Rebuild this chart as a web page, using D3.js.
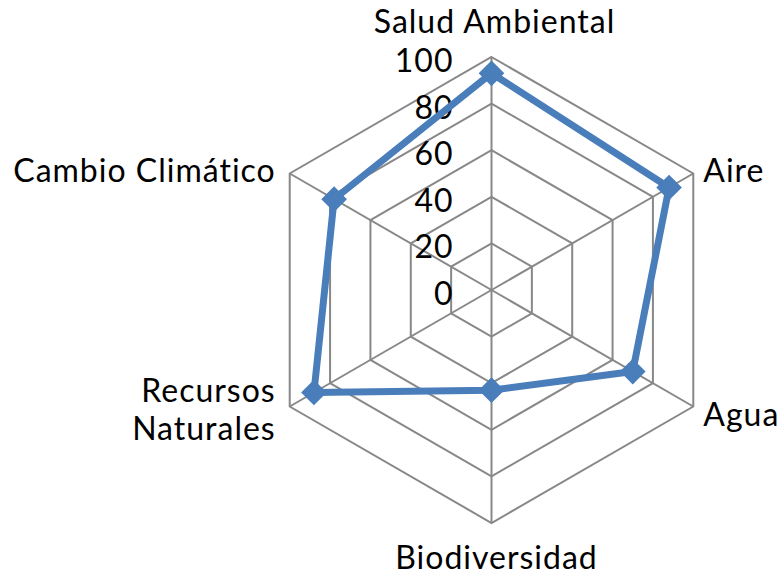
<!DOCTYPE html>
<html>
<head>
<meta charset="utf-8">
<style>
  body { margin: 0; background: #fff; }
  text {
    font-family: Lato, "Open Sans", sans-serif;
    font-size: 32px;
    letter-spacing: 1px;
    fill: #000;
  }
</style>
</head>
<body>
<div id="chart-area"></div>

<script src="https://cdn.jsdelivr.net/npm/d3@7"></script>
<script>
    const categories = ["Salud Ambiental", "Aire", "Agua", "Biodiversidad", "Recursos Naturales", "Cambio Climático"];
    const values = [93, 88, 70, 43, 88, 78];
    const ticks = [0, 20, 40, 60, 80, 100];

    const width = 783;
    const height = 575;
    const cx = 491.5, cy = 290;
    const radius = 233;

    const svg = d3.select("#chart-area")
        .append("svg")
            .attr("width", width)
            .attr("height", height);

    const g = svg.append("g")
        .attr("transform", `translate(${cx}, ${cy})`);

    const r = d3.scaleLinear().domain([0, 100]).range([0, radius]);
    const angle = d3.scaleLinear().domain([0, categories.length]).range([0, 2 * Math.PI]);

    // x/y for an axis index and a value
    const px = (i, v) => r(v) * Math.sin(angle(i));
    const py = (i, v) => -r(v) * Math.cos(angle(i));

    const line = d3.line()
        .x(d => px(d.i, d.v))
        .y(d => py(d.i, d.v))
        .curve(d3.curveLinearClosed);

    // grid rings
    g.selectAll(".ring")
        .data(ticks.filter(t => t > 0))
        .enter().append("path")
            .attr("class", "ring")
            .attr("d", t => line(categories.map((c, i) => ({i: i, v: t}))))
            .attr("fill", "none")
            .attr("stroke", "#888")
            .attr("stroke-width", 2);

    // spokes
    g.selectAll(".spoke")
        .data(categories)
        .enter().append("line")
            .attr("class", "spoke")
            .attr("x1", 0).attr("y1", 0)
            .attr("x2", (d, i) => px(i, 100))
            .attr("y2", (d, i) => py(i, 100))
            .attr("stroke", "#888")
            .attr("stroke-width", 2);

    // tick labels
    g.selectAll(".tick")
        .data(ticks)
        .enter().append("text")
            .attr("class", "tick")
            .attr("x", -38)
            .attr("y", t => -r(t) + 15)
            .attr("text-anchor", "end")
            .text(t => t);

    // series
    const pts = values.map((v, i) => ({i: i, v: v}));
    g.append("path")
        .attr("d", line(pts))
        .attr("fill", "none")
        .attr("stroke", "#4a7ebb")
        .attr("stroke-width", 7)
        .attr("stroke-linejoin", "round");

    g.selectAll(".marker")
        .data(pts)
        .enter().append("path")
            .attr("class", "marker")
            .attr("d", d3.symbol().type(d3.symbolDiamond2).size(420))
            .attr("transform", d => `translate(${px(d.i, d.v)}, ${py(d.i, d.v)})`)
            .attr("fill", "#4a7ebb");

    // category labels
    const labelPos = [
        {dx: 3, dy: -24, anchor: "middle"},
        {dx: 10, dy: 8, anchor: "start"},
        {dx: 10, dy: 19, anchor: "start"},
        {dx: 5, dy: 46, anchor: "middle"},
        {dx: -14, dy: -5, anchor: "end"},
        {dx: -14, dy: 8, anchor: "end"}
    ];
    g.selectAll(".cat")
        .data(categories)
        .enter().append("text")
            .attr("class", "cat")
            .attr("text-anchor", (d, i) => labelPos[i].anchor)
            .attr("transform", (d, i) => `translate(${px(i, 100) + labelPos[i].dx}, ${py(i, 100) + labelPos[i].dy})`)
            .each(function(d) {
                const words = d === "Recursos Naturales" ? d.split(" ") : [d];
                d3.select(this).selectAll("tspan")
                    .data(words)
                    .enter().append("tspan")
                        .attr("x", 0)
                        .attr("dy", (w, k) => k === 0 ? 0 : 38)
                        .text(w => w);
            });
</script>
</body>
</html>
